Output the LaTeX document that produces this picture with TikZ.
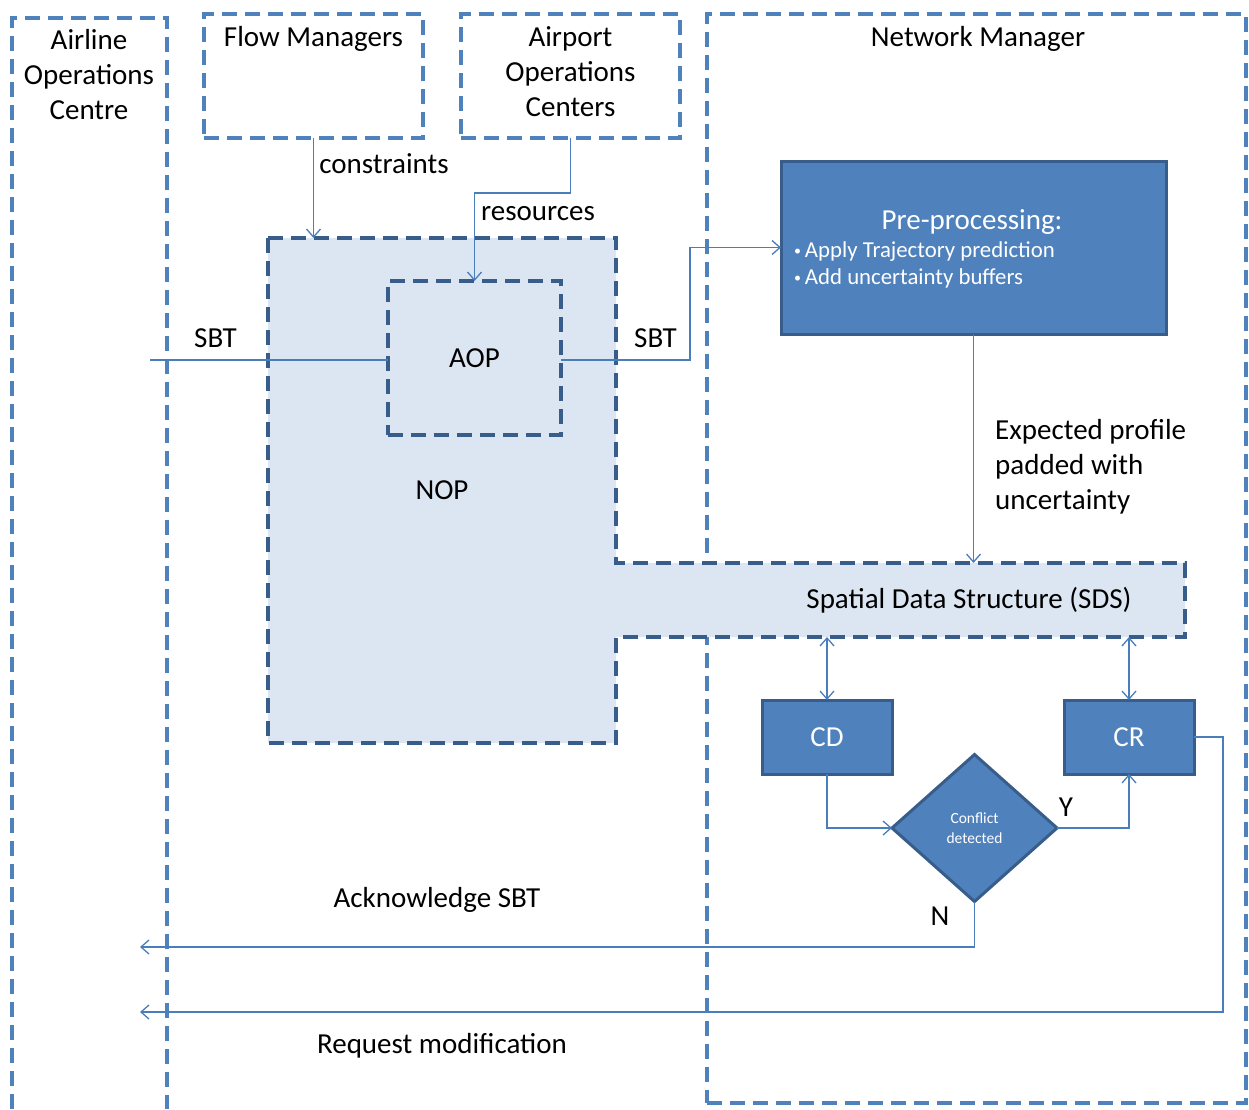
\documentclass[tikz,border=0pt]{standalone}
\usepackage{fontspec}
\setmainfont{Carlito}
\usetikzlibrary{arrows.meta,shapes.geometric}

\definecolor{accent}{HTML}{4F81BD}
\definecolor{accentdark}{HTML}{385D8A}
\definecolor{panel}{HTML}{DCE6F2}
\definecolor{wire}{HTML}{4A7EBB}

% multi-line text whose baseline is that of its first line
\newcommand\textstack[2][c]{\begin{tabular}[t]{@{}#1@{}}#2\end{tabular}}

\tikzset{
  lane/.style={draw=accent, line width=3.3pt, dash pattern=on 15pt off 8pt},
  group/.style={draw=accentdark, line width=3.3pt, dash pattern=on 15pt off 8pt},
  area/.style={inner sep=0pt, outer sep=0pt, anchor=north west},
  solidbox/.style={draw=accentdark, fill=accent, line width=3pt, text=white,
    inner sep=0pt, outer sep=0pt, font=\fontsize{29}{35}\selectfont},
  wire/.style={draw=wire, line width=1.3pt},
  tip/.style={-{Straight Barb[length=8pt,width=14pt]}},
  tips/.style={{Straight Barb[length=8pt,width=14pt]}-{Straight Barb[length=8pt,width=14pt]}},
  lbl/.style={font=\fontsize{29}{35}\selectfont, text=black, inner sep=0pt, anchor=base},
  lblw/.style={lbl, anchor=base west},
}

\begin{document}
\begin{tikzpicture}[x=1pt, y=-1pt]
\useasboundingbox (0,0) rectangle (1249,1109);

% ---- swim lanes ----
\draw[lane] (12,1109) -- (12,18) -- (167,18) -- (167,1109);
\node[lane, area, minimum width=219pt, minimum height=124pt] (fm) at (204,14) {};
\node[lane, area, minimum width=219pt, minimum height=124pt] (apc) at (461,14) {};
\node[lane, area, minimum width=539pt, minimum height=1089pt] (nm) at (707,14) {};

\node[lbl] (aocText) at (89,49) {\textstack{Airline\\Operations\\Centre}};
\node[lbl] (fmText) at (313.5,46) {Flow Managers};
\node[lbl] (apcText) at (570.5,46) {\textstack{Airport\\Operations\\Centers}};
\node[lbl] (nmText) at (978,46) {Network Manager};

% ---- NOP joined with the spatial data structure ----
\node[area, minimum width=348pt, minimum height=505pt] (nop) at (268,238) {};
\node[area, minimum width=569pt, minimum height=74pt] (sds) at (616,563) {};
\draw[group, fill=panel] (nop.north west) -- (nop.north east) -- (sds.north west)
  -- (sds.north east) -- (sds.south east) -- (sds.south west)
  -- (nop.south east) -- (nop.south west) -- cycle;

\node[group, area, minimum width=173pt, minimum height=154pt,
  font=\fontsize{29}{35}\selectfont] (aop) at (388,281) {AOP};
\node[lbl] (nopText) at (442,499) {NOP};
\node[lbl] (sdsText) at (969,608) {Spatial Data Structure (SDS)};

% ---- processing blocks ----
\node[solidbox, area, minimum width=385pt, minimum height=173pt] (pre) at (781,161) {};
\node[lbl, text=white] (preTitle) at (972,229) {Pre-processing:};
\node[lblw, text=white, font=\fontsize{22.8}{27.5}\selectfont] (preItems) at (794,257)
  {\textstack[l]{\raisebox{2pt}{\fontsize{14}{14}\selectfont\textbullet}\,Apply Trajectory prediction\\
   \raisebox{2pt}{\fontsize{14}{14}\selectfont\textbullet}\,Add uncertainty buffers}};

\node[solidbox, area, minimum width=130pt, minimum height=74pt] (cd) at (762,700) {CD};
\node[solidbox, area, minimum width=130pt, minimum height=74pt] (cr) at (1064,700) {CR};
\node[solidbox, diamond, minimum width=165pt, minimum height=147pt, align=center,
  font=\fontsize{15.5}{20}\selectfont] (dec) at (974.5,828) {Conflict\\detected};

% ---- connectors ----
\coordinate (sbtIn) at (150,360);
\coordinate (ackEnd) at (140,947);
\coordinate (reqEnd) at (140,1012);

\draw[wire, tip] (fm.south) -- (fm.south |- nop.north);
\draw[wire, tip] (apc.south) -- ++(0,55) -| (aop.north);
\draw[wire] (sbtIn) -- (sbtIn -| aop.west);
\draw[wire, tip] (sbtIn -| aop.east) -- ++(129,0) |- (pre.west);
\draw[wire, tip] (pre.south) -- (pre.south |- sds.north);
\draw[wire, tips] (cd.north |- sds.south) -- (cd.north);
\draw[wire, tips] (cr.north |- sds.south) -- (cr.north);
\draw[wire, tip] (cd.south) |- (dec.west);
\draw[wire, tip] (dec.east) -| (cr.south);
\draw[wire, tip] (dec.south) |- (ackEnd);
\draw[wire, tip] (cr.east) -- ++(29,0) |- (reqEnd);

% ---- connector labels ----
\node[lbl] (constraintsText) at (384,173) {constraints};
\node[lbl] (resourcesText) at (538,220) {resources};
\node[lbl] (sbtLeft) at (215.5,347) {SBT};
\node[lbl] (sbtRight) at (655.5,347) {SBT};
\node[lblw] (profileText) at (995,439) {\textstack[l]{Expected profile\\padded with\\uncertainty}};
\node[lbl] (yesText) at (1066,816) {Y};
\node[lbl] (noText) at (940,925) {N};
\node[lbl] (ackText) at (437,907) {Acknowledge SBT};
\node[lbl] (reqText) at (442,1053) {Request modification};
\end{tikzpicture}
\end{document}
